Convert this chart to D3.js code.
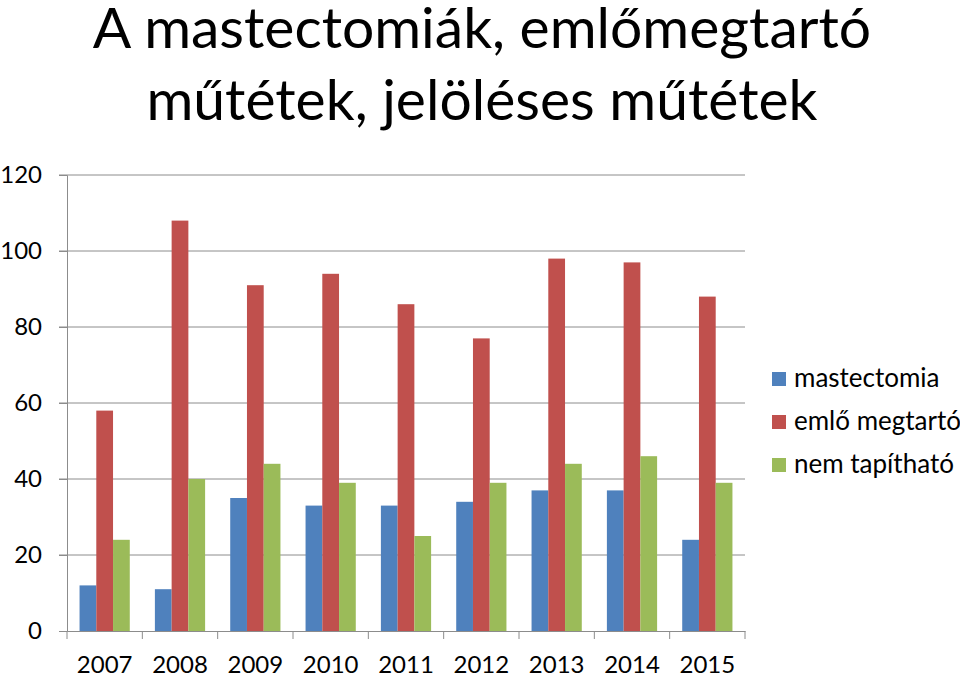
<!DOCTYPE html>
<html><head><meta charset="utf-8">
<script src="https://cdn.jsdelivr.net/npm/d3@7"></script>
<style>body{margin:0;background:#fff}svg{display:block}</style>
</head><body>
<svg id="c" width="960" height="677"></svg>
<script>
const titleLines = ["A mastectomiák, emlőmegtartó", "műtétek, jelöléses műtétek"];
const years = ["2007","2008","2009","2010","2011","2012","2013","2014","2015"];
const seriesNames = ["mastectomia","emlő megtartó","nem tapítható"];
const mastectomia = [12,11,35,33,33,34,37,37,24];
const emloMegtarto = [58,108,91,94,86,77,98,97,88];
const nemTapithato = [24,40,44,39,25,39,44,46,39];
const yTicks = [0,20,40,60,80,100,120];
const colors = ["#4F81BD","#C0504D","#9BBB59"];

const seriesValues = [mastectomia, emloMegtarto, nemTapithato];
const FONT = "Lato, 'Open Sans', sans-serif";
const svg = d3.select("#c");
const m = {l:67, r:745, t:175, b:631};

const x = d3.scaleBand().domain(years).range([m.l, m.r]).paddingInner(0).paddingOuter(0);
const xi = d3.scaleBand().domain(seriesNames).range([x.bandwidth()/6, x.bandwidth()*5/6]);
const y = d3.scaleLinear().domain([0,120]).range([m.b, m.t]);

// gridlines
svg.append("g").selectAll("line").data(yTicks.filter(d=>d>0)).join("line")
  .attr("x1", 59).attr("x2", m.r).attr("y1", d=>y(d)).attr("y2", d=>y(d))
  .attr("stroke", "#8c8c8c").attr("stroke-width", 1);

// y axis
const yAxis = svg.append("g").attr("transform", `translate(${m.l},0)`)
  .call(d3.axisLeft(y).tickValues(yTicks).tickSize(8).tickPadding(17));
yAxis.select(".domain").attr("stroke", "#8c8c8c");
yAxis.selectAll(".tick line").attr("stroke", "#8c8c8c");
yAxis.selectAll("text").attr("font-family", FONT).attr("font-size", 24).attr("fill", "#000");

// bars
const groups = svg.append("g").selectAll("g").data(years).join("g")
  .attr("transform", d => `translate(${x(d)},0)`);
groups.selectAll("rect").data((d,i) => seriesNames.map((s,j)=>({s, v: seriesValues[j][i], c: colors[j]})))
  .join("rect")
  .attr("x", d => xi(d.s)).attr("width", xi.bandwidth())
  .attr("y", d => y(d.v)).attr("height", d => y(0) - y(d.v))
  .attr("fill", d => d.c);

// x axis
const xAxis = svg.append("g").attr("transform", `translate(0,${m.b})`)
  .call(d3.axisBottom(x).tickSize(0).tickPadding(25));
xAxis.select(".domain").attr("stroke", "#8c8c8c");
xAxis.selectAll("text").attr("font-family", FONT).attr("font-size", 24).attr("fill", "#000");
svg.append("g").selectAll("line").data(d3.range(years.length+1)).join("line")
  .attr("x1", i => m.l + i*x.step()).attr("x2", i => m.l + i*x.step())
  .attr("y1", m.b).attr("y2", m.b+8).attr("stroke", "#8c8c8c");

// title
svg.append("g").selectAll("text").data(titleLines).join("text")
  .attr("x", 482).attr("y", (d,i)=> 48 + i*72)
  .attr("text-anchor", "middle").attr("font-family", FONT).attr("font-size", 57)
  .attr("fill", "#000").text(d=>d);

// legend
const lg = svg.append("g").selectAll("g").data(seriesNames).join("g")
  .attr("transform", (d,i)=>`translate(772,${372 + i*43})`);
lg.append("rect").attr("width", 14).attr("height", 14).attr("fill", (d,i)=>colors[i]);
lg.append("text").attr("x", 22).attr("y", 15).attr("font-family", FONT).attr("font-size", 26)
  .attr("fill", "#000").text(d=>d);
</script>
</body></html>
